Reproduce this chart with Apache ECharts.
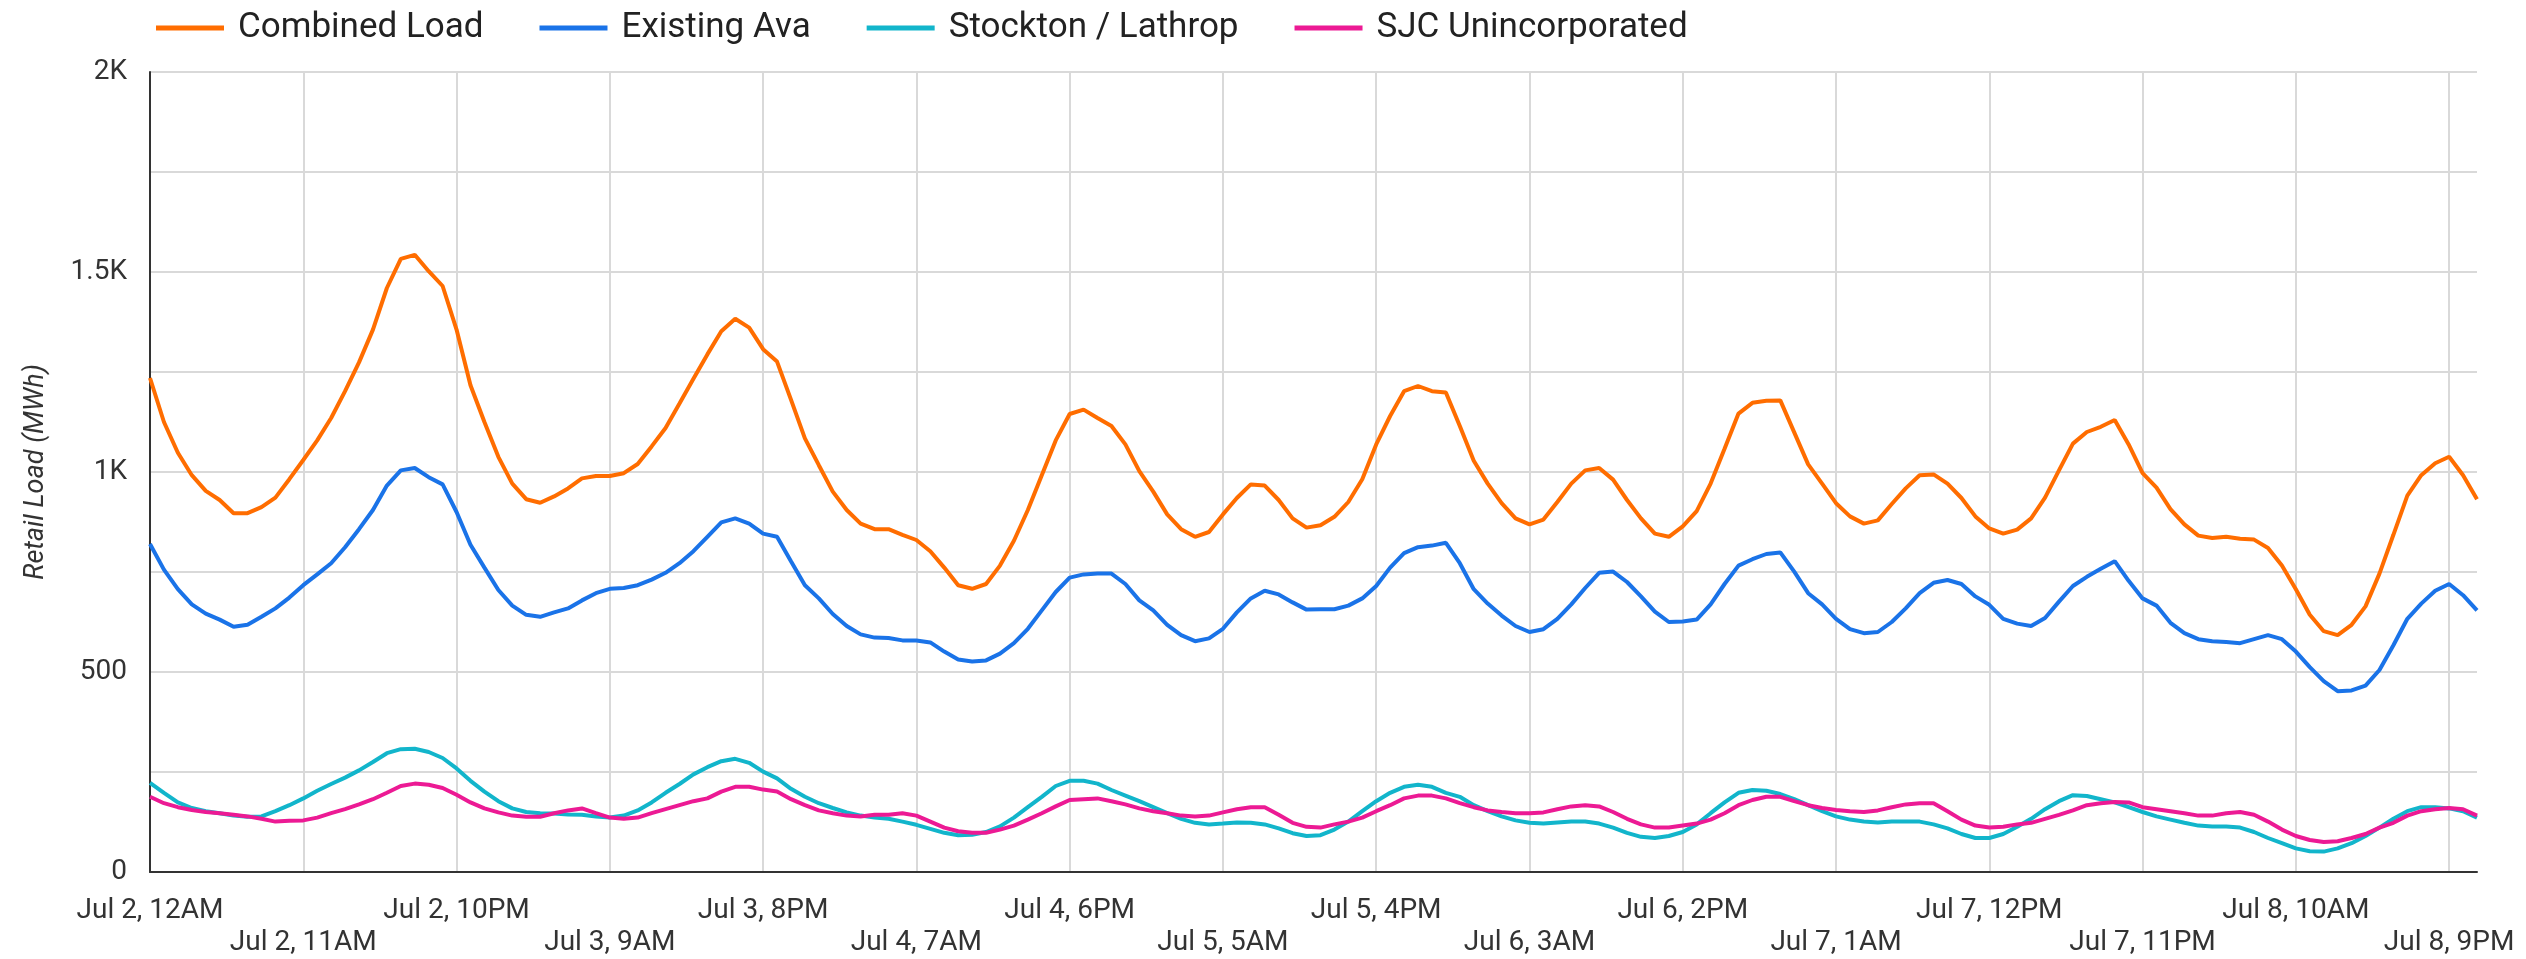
<!DOCTYPE html>
<html>
<head>
<meta charset="utf-8">
<script src="https://cdn.jsdelivr.net/npm/echarts@6/dist/echarts.min.js"></script>
<style>
  html, body { margin: 0; padding: 0; background: #fff; }
  #chart { width: 2526px; height: 959px; }
</style>
</head>
<body>
<div id="chart"></div>
<script>
// Hourly categories: Jul 2 12AM .. Jul 8 11PM (168 hours)
const startDay = 2;
const hourCount = 168;
const categories = [];
for (let h = 0; h < hourCount; h++) {
  const day = startDay + Math.floor(h / 24);
  const hr = h % 24;
  const hr12 = hr % 12 === 0 ? 12 : hr % 12;
  categories.push('Jul ' + day + ', ' + hr12 + (hr < 12 ? 'AM' : 'PM'));
}

const seriesNames = ['Combined Load', 'Existing Ava', 'Stockton / Lathrop', 'SJC Unincorporated'];

const combinedLoad = [
  1235,1125,1048,992,953,930,897,897,912,936,982,1030,1079,1135,1202,1274,1356,1460,1533,1543,1502,1465,1356,1217,1125,1038,971,932,923,939,959,984,990,990,
  997,1020,1064,1110,1171,1233,1294,1352,1383,1361,1307,1276,1181,1084,1017,951,905,871,857,857,843,830,802,761,717,708,720,766,828,905,992,1079,1145,
  1156,1135,1115,1069,1002,951,894,857,838,850,894,935,969,966,930,884,861,867,888,925,982,1069,1140,1202,1215,1202,1199,1115,1028,971,922,884,869,
  881,925,971,1004,1010,981,930,884,846,838,864,902,971,1058,1146,1173,1178,1179,1099,1019,971,922,889,871,879,920,959,992,994,971,935,889,859,
  846,856,884,936,1004,1071,1100,1113,1130,1069,997,961,907,869,841,835,838,833,831,810,766,707,643,602,592,618,664,746,843,941,992,1022,1038,992,932
];

const existingAva = [
  820,756,707,669,646,631,613,618,638,659,686,717,744,772,812,857,905,966,1004,1010,987,969,900,818,761,705,666,643,638,649,659,679,697,708,
  710,717,731,748,772,802,838,874,884,871,846,838,777,717,684,645,615,594,586,585,579,579,574,551,531,526,529,546,572,608,654,700,736,
  744,746,746,720,679,654,618,592,577,584,608,649,684,703,694,674,656,657,657,666,684,715,761,797,812,816,823,772,707,671,641,615,600,
  607,633,669,710,748,751,725,689,651,625,626,631,669,720,766,782,795,799,751,697,669,633,607,597,600,625,659,697,723,730,720,689,668,
  633,621,615,635,676,715,738,758,777,728,684,666,623,597,582,577,575,572,582,592,582,551,512,477,452,454,466,505,567,633,671,703,720,692,654
];

const stocktonLathrop = [
  223,198,174,160,152,147,141,138,139,152,167,184,203,220,236,254,275,297,307,308,300,285,259,228,201,177,159,150,147,146,144,143,139,136,
  141,154,174,198,220,244,262,277,283,273,251,234,208,188,172,160,149,141,136,133,126,118,108,98,92,93,100,114,136,162,188,215,228,
  228,221,205,191,177,162,147,133,123,119,121,124,123,119,109,97,90,92,106,126,152,177,198,213,218,213,198,188,167,152,139,129,123,
  121,124,126,126,121,111,98,88,85,90,100,119,147,174,198,205,203,195,182,167,152,139,131,126,124,126,126,126,119,109,95,85,85,
  95,113,133,157,177,192,190,182,174,162,150,139,131,123,116,114,114,111,100,85,72,59,52,51,59,72,90,111,133,152,162,162,159,152,136
];

const sjcUnincorporated = [
  188,172,162,155,150,147,143,139,133,126,128,129,136,147,157,169,182,198,215,221,218,210,193,174,159,149,141,138,138,147,154,159,147,136,
  133,136,147,157,167,177,184,201,213,213,206,201,182,167,154,147,141,139,143,143,147,141,126,111,102,98,98,106,116,131,147,164,180,
  182,184,177,169,159,152,147,141,139,141,149,157,162,162,143,123,113,111,119,126,136,152,167,184,191,191,184,172,162,154,150,147,147,
  149,157,164,167,164,150,133,119,111,111,116,121,131,147,167,180,188,188,177,167,160,155,152,150,154,162,169,172,172,152,131,116,111,
  113,119,123,133,143,154,167,172,175,174,162,157,152,147,141,141,147,150,143,126,106,90,80,75,77,85,95,111,123,141,152,157,160,157,141
];

const colors = ['#ff6d00', '#1a73e8', '#12b5cb', '#ec1a94'];
const seriesData = [combinedLoad, existingAva, stocktonLathrop, sjcUnincorporated];

const chart = echarts.init(document.getElementById('chart'), null, { renderer: 'canvas' });

const labelStep = 11;

chart.setOption({
  animation: false,
  color: colors,
  textStyle: { fontFamily: 'Roboto' },
  legend: {
    data: seriesNames,
    left: 151,
    top: 3,
    icon: 'rect',
    itemWidth: 68,
    itemHeight: 5,
    itemGap: 56,
    textStyle: { fontSize: 35, color: '#222', fontFamily: 'Roboto', padding: [0, 0, 0, 9], lineHeight: 40 }
  },
  grid: { left: 150, right: 49, top: 72, bottom: 87, containLabel: false },
  xAxis: {
    type: 'category',
    data: categories,
    boundaryGap: false,
    axisLine: { show: true, lineStyle: { color: '#333', width: 2 } },
    axisTick: { show: false },
    axisLabel: {
      interval: labelStep - 1,
      fontSize: 28,
      color: '#333',
      margin: 23,
      lineHeight: 32,
      formatter: function (val, idx) {
        const k = Math.round(idx / labelStep);
        return (k % 2 === 1) ? '\n' + val : val;
      }
    },
    splitLine: { show: true, interval: labelStep - 1, lineStyle: { color: '#d9d9d9', width: 2 } }
  },
  yAxis: {
    type: 'value',
    min: 0,
    max: 2000,
    interval: 250,
    name: 'Retail Load (MWh)',
    nameLocation: 'middle',
    nameGap: 100,
    nameTextStyle: { fontStyle: 'italic', fontSize: 27, color: '#333', fontFamily: 'Roboto' },
    axisLine: { show: true, lineStyle: { color: '#333', width: 2 } },
    axisTick: { show: false },
    axisLabel: {
      fontSize: 28,
      color: '#333',
      margin: 23,
      formatter: function (v) {
        if (v % 500 !== 0) return '';
        return v >= 1000 ? (v / 1000) + 'K' : String(v);
      }
    },
    splitLine: { show: true, lineStyle: { color: '#d9d9d9', width: 2 } }
  },
  series: seriesNames.map(function (name, i) {
    return {
      name: name,
      type: 'line',
      data: seriesData[i],
      showSymbol: false,
      symbol: 'none',
      lineStyle: { width: 4, color: colors[i] },
      itemStyle: { color: colors[i] }
    };
  })
});
</script>
</body>
</html>
